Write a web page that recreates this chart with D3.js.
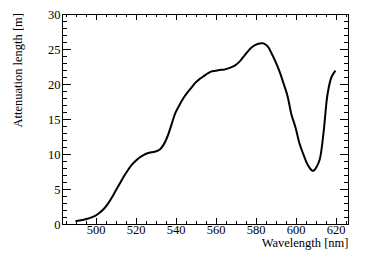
<!DOCTYPE html>
<html>
<head>
<meta charset="utf-8">
<script src="https://cdn.jsdelivr.net/npm/d3@7"></script>
<style>
  body { margin: 0; background: #fff; }
  svg { display: block; }
  svg text { font-family: "Liberation Serif", "DejaVu Serif", serif !important; fill: #000; }
</style>
</head>
<body>
<svg id="mainsvg" width="367" height="263"></svg>
<script>
// data
const wavelength = [490, 492, 494, 496, 498, 500, 502, 504, 506, 508, 510, 512, 514, 516, 518, 520,
  522, 524, 526, 528, 530, 532, 534, 536, 538, 540, 542, 544, 546, 548, 550, 552, 554, 556, 558, 560,
  562, 564, 566, 568, 570, 572, 574, 576, 578, 580, 582, 584, 586, 588, 590, 592, 594, 596, 598, 600,
  602, 604, 606, 608, 609, 610, 612, 614, 616, 618, 620];
const attenuation = [0.4, 0.5, 0.6, 0.75, 0.95, 1.2, 1.6, 2.1, 2.8, 3.7, 4.7, 5.7, 6.7, 7.6, 8.4, 9.0,
  9.5, 9.85, 10.1, 10.25, 10.35, 10.6, 11.3, 12.5, 14.2, 15.9, 17.0, 18.0, 18.8, 19.5, 20.2, 20.7, 21.1, 21.5, 21.8, 21.9,
  22.0, 22.05, 22.2, 22.4, 22.7, 23.2, 23.9, 24.6, 25.2, 25.6, 25.8, 25.8, 25.4, 24.4, 23.2, 21.8, 20.1, 18.3, 15.6, 13.8,
  11.5, 9.9, 8.5, 7.7, 7.6, 7.9, 9.1, 13.0, 18.5, 21.0, 21.9];
const xTicks = [500, 520, 540, 560, 580, 600, 620];
const yTicks = [0, 5, 10, 15, 20, 25, 30];
const xDomain = [483.5, 626.5];
const yDomain = [0, 30];
const xLabel = 'Wavelength [nm]';
const yLabel = 'Attenuation length [m]';

const svg = d3.select('#mainsvg');
const frameL = 62.5, frameR = 348.5, frameT = 14, frameB = 224;

const xScale = d3.scaleLinear().domain(xDomain).range([frameL, frameR]);
const yScale = d3.scaleLinear().domain(yDomain).range([frameB, frameT]);

const xMinor = d3.range(485, 627, 5).filter(v => !xTicks.includes(v));
const yMinor = d3.range(0, 31, 1).filter(v => !yTicks.includes(v));

const styleAxis = g => {
    g.attr('font-family', null);
    g.select('.domain').remove();
    g.selectAll('.tick line').attr('stroke', '#000').attr('shape-rendering', 'crispEdges');
    g.selectAll('.tick text').attr('font-size', '12.5px');
};

// bottom axis (ticks point inward)
svg.append('g').attr('transform', `translate(0, ${frameB})`)
    .call(d3.axisBottom(xScale).tickValues(xTicks).tickSize(-6.3).tickPadding(1.5))
    .call(styleAxis);
svg.append('g').attr('transform', `translate(0, ${frameB})`)
    .call(d3.axisBottom(xScale).tickValues(xMinor).tickSize(-3.2).tickFormat(''))
    .call(styleAxis);
// top axis
svg.append('g').attr('transform', `translate(0, ${frameT})`)
    .call(d3.axisTop(xScale).tickValues(xTicks).tickSize(-6.3).tickFormat(''))
    .call(styleAxis);
svg.append('g').attr('transform', `translate(0, ${frameT})`)
    .call(d3.axisTop(xScale).tickValues(xMinor).tickSize(-3.2).tickFormat(''))
    .call(styleAxis);
// left axis
svg.append('g').attr('transform', `translate(${frameL}, 0)`)
    .call(d3.axisLeft(yScale).tickValues(yTicks).tickSize(-8.6).tickPadding(2))
    .call(styleAxis);
svg.append('g').attr('transform', `translate(${frameL}, 0)`)
    .call(d3.axisLeft(yScale).tickValues(yMinor).tickSize(-4.3).tickFormat(''))
    .call(styleAxis);
// right axis
svg.append('g').attr('transform', `translate(${frameR}, 0)`)
    .call(d3.axisRight(yScale).tickValues(yTicks).tickSize(-8.6).tickFormat(''))
    .call(styleAxis);
svg.append('g').attr('transform', `translate(${frameR}, 0)`)
    .call(d3.axisRight(yScale).tickValues(yMinor).tickSize(-4.3).tickFormat(''))
    .call(styleAxis);

// frame
svg.append('rect')
    .attr('x', frameL).attr('y', frameT)
    .attr('width', frameR - frameL).attr('height', frameB - frameT)
    .attr('fill', 'none').attr('stroke', '#000').attr('stroke-width', 1)
    .attr('shape-rendering', 'crispEdges');

// curve
const line = d3.line()
    .x((d, i) => xScale(wavelength[i]))
    .y(d => yScale(d))
    .curve(d3.curveCatmullRom);
svg.append('path').datum(attenuation)
    .attr('fill', 'none')
    .attr('stroke', '#000')
    .attr('stroke-width', 2)
    .attr('d', line);

// axis titles
svg.append('text')
    .attr('x', frameR).attr('y', 247)
    .attr('text-anchor', 'end')
    .attr('font-size', '12.5px')
    .text(xLabel);
svg.append('text')
    .attr('transform', `translate(22, ${frameT - 1}) rotate(-90)`)
    .attr('text-anchor', 'end')
    .attr('font-size', '12.5px')
    .text(yLabel);
</script>
</body>
</html>
